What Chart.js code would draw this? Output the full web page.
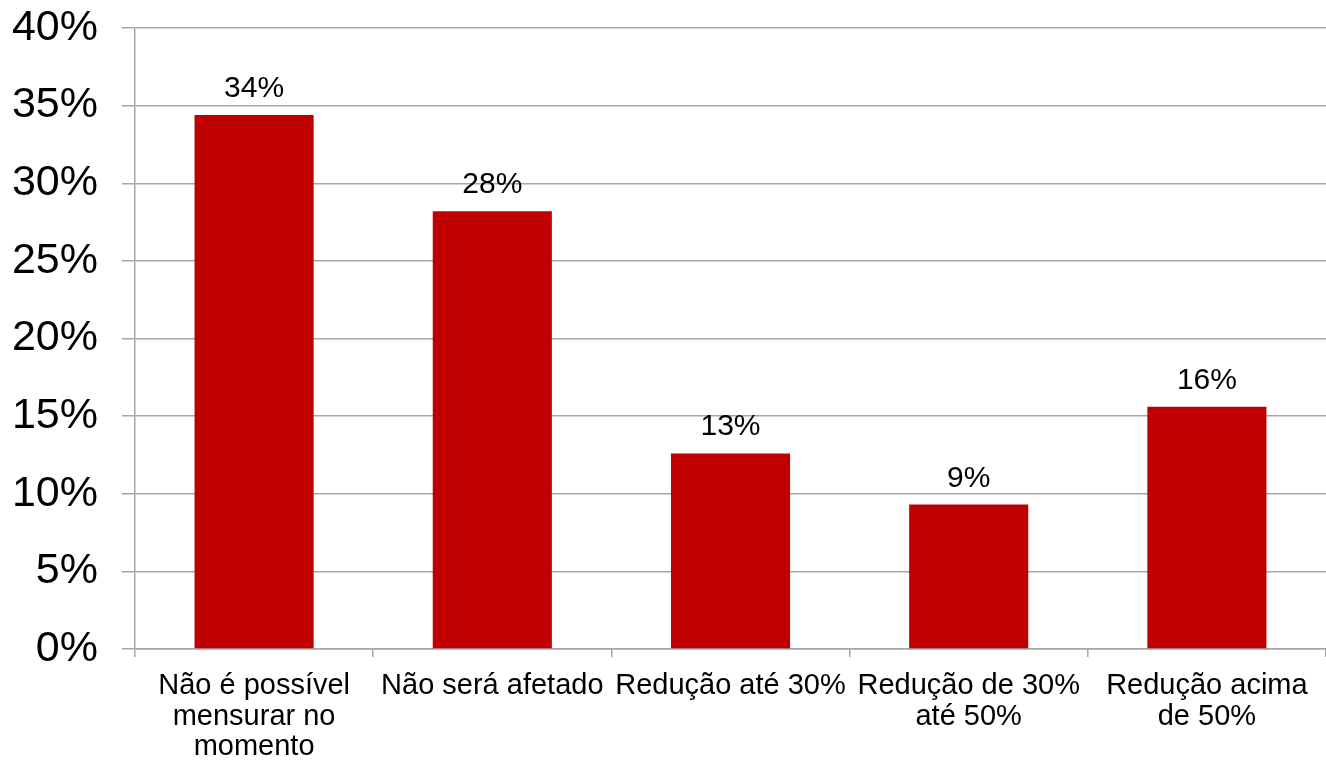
<!DOCTYPE html>
<html>
<head>
<meta charset="utf-8">
<script src="https://cdn.jsdelivr.net/npm/chart.js@4.4.1/dist/chart.umd.min.js"></script>
<style>
html,body{margin:0;padding:0;background:#fff;}
#wrap{width:1326px;height:764px;position:relative;}
</style>
</head>
<body>
<div id="wrap"><canvas id="c" width="1326" height="764"></canvas></div>
<script>
const categories = [
  ["Não é possível", "mensurar no", "momento"],
  ["Não será afetado"],
  ["Redução até 30%"],
  ["Redução de 30%", "até 50%"],
  ["Redução acima", "de 50%"]
];
const values = [34.4, 28.2, 12.6, 9.3, 15.6];
const yTicks = [0, 5, 10, 15, 20, 25, 30, 35, 40];

const FONT = "'Liberation Sans', Arial, sans-serif";

const dataLabels = {
  id: 'dataLabels',
  afterDatasetsDraw(chart) {
    const ctx = chart.ctx;
    const meta = chart.getDatasetMeta(0);
    ctx.save();
    ctx.font = "30px " + FONT;
    ctx.fillStyle = "#000";
    ctx.textAlign = "center";
    ctx.textBaseline = "alphabetic";
    meta.data.forEach((bar, i) => {
      ctx.fillText(Math.round(values[i]) + "%", bar.x, bar.y - 18);
    });
    ctx.restore();
  }
};

new Chart(document.getElementById('c'), {
  type: 'bar',
  data: {
    labels: categories,
    datasets: [{
      data: values,
      backgroundColor: '#C00000',
      borderWidth: 0,
      barPercentage: 0.5,
      categoryPercentage: 1.0
    }]
  },
  options: {
    responsive: false,
    animation: false,
    layout: { padding: { top: 28, right: 0, bottom: 0, left: 0 } },
    plugins: { legend: { display: false }, tooltip: { enabled: false } },
    scales: {
      x: {
        offset: true,
        afterFit(scale) { scale.height = 115; scale.paddingLeft = 0; scale.paddingRight = 0; },
        grid: { display: true, drawOnChartArea: false, offset: true, color: '#a6a6a6', lineWidth: 1.5, tickLength: 8 },
        border: { color: '#a6a6a6', width: 1.5 },
        ticks: { color: '#000', font: { family: FONT, size: 29, lineHeight: 1.05 }, maxRotation: 0, minRotation: 0, padding: 14, autoSkip: false }
      },
      y: {
        min: 0, max: 40,
        afterFit(scale) { scale.width = 135; scale.paddingTop = 0; scale.paddingBottom = 0; },
        afterBuildTicks(scale) { scale.ticks = yTicks.map(v => ({ value: v })); },
        grid: { color: '#a6a6a6', lineWidth: 1.5, tickLength: 13 },
        border: { color: '#a6a6a6', width: 1.5 },
        ticks: { color: '#000', font: { family: FONT, size: 43 }, padding: 24, callback: v => v + '%' }
      }
    }
  },
  plugins: [dataLabels]
});
</script>
</body>
</html>
